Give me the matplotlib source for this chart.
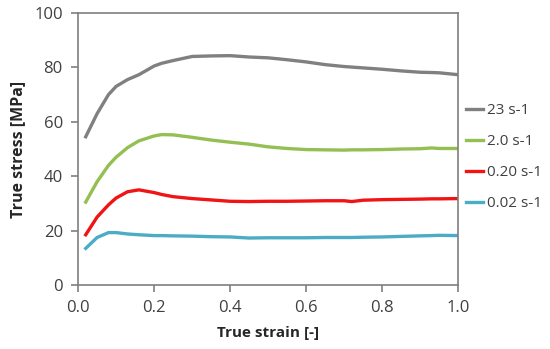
import numpy as np
import matplotlib
matplotlib.use("Agg")
from matplotlib import pyplot as plt

# curves
strain = [0.02, 0.05, 0.08, 0.10, 0.13, 0.16, 0.20, 0.22, 0.25, 0.30, 0.35, 0.40, 0.45,
          0.50, 0.55, 0.60, 0.65, 0.70, 0.72, 0.75, 0.80, 0.85, 0.90, 0.93, 0.95, 1.00]
stress_23 = [54.5, 63.0, 70.0, 73.0, 75.5, 77.3, 80.5, 81.5, 82.5, 84.0, 84.2, 84.3, 83.8,
             83.5, 82.8, 82.0, 81.0, 80.3, 80.1, 79.8, 79.3, 78.7, 78.2, 78.1, 78.0, 77.3]
stress_2 = [30.5, 38.0, 44.0, 47.0, 50.5, 53.0, 54.8, 55.3, 55.2, 54.3, 53.3, 52.5, 51.8,
            50.8, 50.2, 49.8, 49.7, 49.6, 49.7, 49.7, 49.8, 50.0, 50.1, 50.4, 50.2, 50.2]
stress_020 = [18.5, 25.0, 29.5, 32.0, 34.3, 35.0, 34.0, 33.3, 32.5, 31.8, 31.3, 30.8, 30.7,
              30.8, 30.8, 30.9, 31.0, 31.0, 30.7, 31.2, 31.4, 31.5, 31.6, 31.7, 31.7, 31.8]
stress_002 = [13.5, 17.5, 19.3, 19.3, 18.8, 18.5, 18.2, 18.2, 18.1, 18.0, 17.8, 17.7, 17.3,
              17.4, 17.4, 17.4, 17.5, 17.5, 17.5, 17.6, 17.7, 17.9, 18.1, 18.2, 18.3, 18.2]

labels = ["23 s-1", "2.0 s-1", "0.20 s-1", "0.02 s-1"]
colors = ["#808080", "#94bf52", "#f01414", "#4bacc6"]

plt.rcParams['font.family'] = ['Open Sans', 'DejaVu Sans']

fig = plt.figure(figsize=(5.5, 3.49), dpi=100)
ax = fig.add_axes([0.142, 0.183, 0.691, 0.78])

for s, lab, c in zip([stress_23, stress_2, stress_020, stress_002], labels, colors):
    ax.plot(strain, s, color=c, lw=2.4, label=lab)

ax.set_xlim(0, 1.0)
ax.set_ylim(0, 100)
ax.set_xticks(np.arange(0, 1.01, 0.2))
ax.set_yticks(np.arange(0, 101, 20))
ax.xaxis.set_major_formatter(matplotlib.ticker.FormatStrFormatter('%.1f'))
ax.tick_params(direction='out', length=5, width=1.2, color='#7f7f7f',
               labelsize=12, labelcolor='#404040', pad=6)
for sp in ax.spines.values():
    sp.set_color('#7f7f7f')
    sp.set_linewidth(1.2)

ax.set_xlabel("True strain [-]", fontsize=11, fontweight='bold', color='#262626', labelpad=7)
ax.set_ylabel("True stress [MPa]", fontsize=11.5, fontweight='bold', color='#262626', labelpad=6)

ax.legend(loc='center left', bbox_to_anchor=(1.0, 0.47), frameon=False,
          fontsize=11, handlelength=1.1, handletextpad=0.3, labelspacing=1.05,
          borderaxespad=0, borderpad=0.5, labelcolor='#404040')

fig.savefig("out.png", dpi=100)
